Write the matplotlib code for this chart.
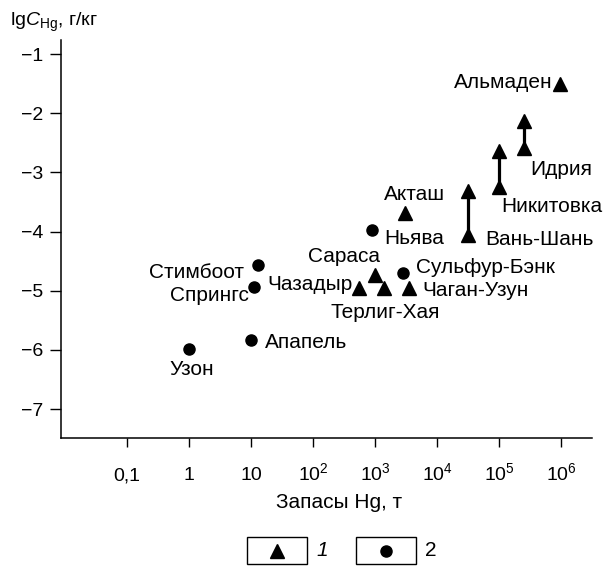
import matplotlib
matplotlib.use('Agg')
import matplotlib.pyplot as plt
from matplotlib.patches import Rectangle
from matplotlib.ticker import NullLocator

plt.rcParams['font.family'] = ['Liberation Sans', 'DejaVu Sans']
plt.rcParams['mathtext.fontset'] = 'custom'
plt.rcParams['mathtext.rm'] = 'Liberation Sans'
plt.rcParams['mathtext.it'] = 'Liberation Sans:italic'

# group 2 (circles)
circle_names = ['Узон', 'Апапель', 'Стимбоот', 'Спрингс', 'Ньява', 'Сульфур-Бэнк']
circle_x = [1, 10, 13, 11, 900, 2800]
circle_y = [-5.98, -5.83, -4.57, -4.94, -3.98, -4.70]

# group 1 (triangles)
tri_names = ['Сараса', 'Чазадыр', 'Терлиг-Хая', 'Чаган-Узун', 'Акташ', 'Альмаден']
tri_x = [1000, 560, 1400, 3500, 3000, 950000]
tri_y = [-4.73, -4.95, -4.95, -4.95, -3.69, -1.51]

# group 1 with a range of concentrations
rng_names = ['Вань-Шань', 'Никитовка', 'Идрия']
rng_x = [32000, 100000, 250000]
rng_lo = [-4.05, -3.25, -2.58]
rng_hi = [-3.32, -2.64, -2.13]

xticks = [0.1, 1, 10, 1e2, 1e3, 1e4, 1e5, 1e6]
xtick_labels = ['0,1', '1', '10', '$10^2$', '$10^3$', '$10^4$', '$10^5$', '$10^6$']
yticks = [-1, -2, -3, -4, -5, -6, -7]

W, H = 604, 572
fig = plt.figure(figsize=(W / 100, H / 100), dpi=100)
ax = fig.add_axes([61 / W, 1 - 438 / H, (592 - 61) / W, (438 - 40) / H])

ax.set_xscale('log')
ax.set_xlim(10 ** -2.065, 10 ** 6.5)
ax.set_ylim(-7.49, -0.76)

for side in ['top', 'right']:
    ax.spines[side].set_visible(False)
for side in ['left', 'bottom']:
    ax.spines[side].set_linewidth(1.1)

ax.set_xticks(xticks)
ax.set_xticklabels(xtick_labels)
ax.xaxis.set_minor_locator(NullLocator())
ax.set_yticks(yticks)
ax.tick_params(axis='x', direction='out', length=6.5, width=1, labelsize=14, pad=24)
ax.tick_params(axis='y', direction='out', length=8, width=1, labelsize=14, pad=5)
for lab in ax.get_xticklabels():
    lab.set_verticalalignment('baseline')

# ranges: vertical line with triangles at both ends
for x, lo, hi in zip(rng_x, rng_lo, rng_hi):
    ax.plot([x, x], [lo, hi], color='black', lw=2.3, zorder=2)
ax.plot(rng_x, rng_lo, '^', color='black', ms=10, zorder=3, clip_on=False)
ax.plot(rng_x, rng_hi, '^', color='black', ms=10, zorder=3, clip_on=False)

ax.plot(tri_x, tri_y, '^', color='black', ms=10, zorder=3, clip_on=False)
ax.plot(circle_x, circle_y, 'o', color='black', ms=8, zorder=3, clip_on=False)

fs = 15
circle_offsets = [(3, -21, 'center'), (14, -3, 'left'), (-14, -7, 'right'),
                  (-5, -8, 'right'), (12, -8, 'left'), (13, 6, 'left')]
for name, x, y, (dx, dy, ha) in zip(circle_names, circle_x, circle_y, circle_offsets):
    ax.annotate(name, (x, y), xytext=(dx, dy), textcoords='offset pixels',
                ha=ha, va='center', fontsize=fs)

tri_offsets = [(-31, 18, 'center'), (-7, 3, 'right'), (1, -25, 'center'),
               (14, -3, 'left'), (10, 19, 'center'), (-7, 2, 'right')]
for name, x, y, (dx, dy, ha) in zip(tri_names, tri_x, tri_y, tri_offsets):
    ax.annotate(name, (x, y), xytext=(dx, dy), textcoords='offset pixels',
                ha=ha, va='center', fontsize=fs)

rng_offsets = [(17, -5, 'left'), (2, -19, 'left'), (7, -22, 'left')]
for name, x, y, (dx, dy, ha) in zip(rng_names, rng_x, rng_lo, rng_offsets):
    ax.annotate(name, (x, y), xytext=(dx, dy), textcoords='offset pixels',
                ha=ha, va='center', fontsize=fs)

fig.text(10 / W, 1 - 26 / H, r'lg$C_{\mathrm{Hg}}$, г/кг', fontsize=14,
         ha='left', va='baseline')
fig.text(339 / W, 1 - 508 / H, 'Запасы Hg, т', fontsize=fs,
         ha='center', va='baseline')

# legend drawn as two boxes with numbers outside
lax = fig.add_axes([0, 0, 1, 1], facecolor='none')
lax.set_xlim(0, W)
lax.set_ylim(H, 0)
lax.axis('off')
lax.add_patch(Rectangle((247, 537), 60, 27, fill=False, lw=1, ec='black'))
lax.add_patch(Rectangle((356, 537), 60, 27, fill=False, lw=1, ec='black'))
lax.plot([277], [551], '^', color='black', ms=10)
lax.plot([386], [551], 'o', color='black', ms=8)
lax.text(316, 551, '1', fontsize=fs, style='italic', ha='left', va='center')
lax.text(425, 551, '2', fontsize=fs, ha='left', va='center')

fig.savefig('out.png', dpi=100)
